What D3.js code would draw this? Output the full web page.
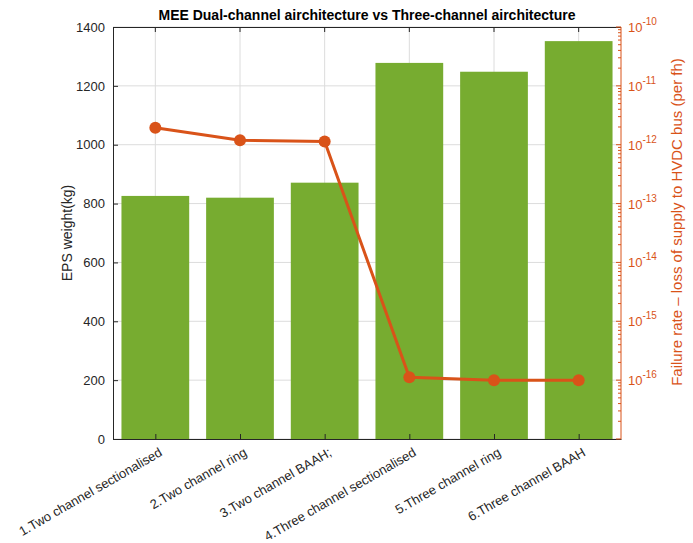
<!DOCTYPE html>
<html>
<head>
<meta charset="utf-8">
<script src="https://cdn.jsdelivr.net/npm/d3@7"></script>
<style>
  body { margin: 0; background: #fff; }
  text { font-family: "Liberation Sans", Arial, sans-serif; }
</style>
</head>
<body>
<div id="chart"></div>
<script>
// data
var categories = ["1.Two channel sectionalised", "2.Two channel ring", "3.Two channel BAAH;",
                  "4.Three channel sectionalised", "5.Three channel ring", "6.Three channel BAAH"];
var weights = [826, 820, 871, 1278, 1248, 1352];
var failureRates = [1.95e-12, 1.19e-12, 1.13e-12, 1.12e-16, 1.0e-16, 1.0e-16];
var weightTicks = [0, 200, 400, 600, 800, 1000, 1200, 1400];
var rateExponents = [-17, -16, -15, -14, -13, -12, -11, -10];

var W = 693, H = 543;
var margin = {top: 27, right: 72, bottom: 104, left: 113};
var width = W - margin.left - margin.right;
var height = H - margin.top - margin.bottom;

var green = "#77ac30", orange = "#d95319", axisCol = "#262626", gridCol = "#dcdcdc";

var svg = d3.select("#chart").append("svg")
    .attr("width", W)
    .attr("height", H);

var g = svg.append("g")
    .attr("transform", "translate(" + margin.left + "," + margin.top + ")");

var x = d3.scaleLinear().domain([0.5, 6.5]).range([0, width]);
var y = d3.scaleLinear().domain([0, 1400]).range([height, 0]);
var yR = d3.scaleLog().domain([1e-17, 1e-10]).range([height, 0]);

var idx = categories.map(function(d, i) { return i + 1; });

// grid
g.append("g").selectAll("line.gx")
    .data(idx).enter().append("line")
    .attr("x1", function(d) { return x(d); })
    .attr("x2", function(d) { return x(d); })
    .attr("y1", 0).attr("y2", height)
    .attr("stroke", gridCol).attr("stroke-width", 1);

g.append("g").selectAll("line.gy")
    .data(weightTicks).enter().append("line")
    .attr("x1", 0).attr("x2", width)
    .attr("y1", function(d) { return y(d); })
    .attr("y2", function(d) { return y(d); })
    .attr("stroke", gridCol).attr("stroke-width", 1);

// bars
var bw = (x(2) - x(1)) * 0.8;
g.append("g").selectAll("rect")
    .data(weights).enter().append("rect")
    .attr("x", function(d, i) { return x(i + 1) - bw / 2; })
    .attr("y", function(d) { return y(d); })
    .attr("width", bw)
    .attr("height", function(d) { return height - y(d); })
    .attr("fill", green);

// box top
g.append("line")
    .attr("x1", 0).attr("x2", width).attr("y1", 0.5).attr("y2", 0.5)
    .attr("stroke", axisCol).attr("stroke-width", 1);

// left axis
var yAxis = d3.axisLeft(y).tickValues(weightTicks).tickSizeInner(-5).tickSizeOuter(0)
    .tickPadding(8).tickFormat(d3.format("d"));
var ya = g.append("g").call(yAxis);
ya.select(".domain").attr("stroke", axisCol);
ya.selectAll(".tick line").attr("stroke", axisCol);
ya.selectAll("text").attr("fill", axisCol).style("font-size", "13px");

// bottom axis
var xAxis = d3.axisBottom(x).tickValues(idx).tickSizeInner(-5).tickSizeOuter(0)
    .tickFormat(function(d) { return categories[d - 1]; });
var xa = g.append("g").attr("transform", "translate(0," + height + ")").call(xAxis);
xa.select(".domain").attr("stroke", axisCol);
xa.selectAll(".tick line").attr("stroke", axisCol);
xa.selectAll("text")
    .attr("fill", axisCol)
    .style("font-size", "13px")
    .style("text-anchor", "end")
    .attr("dy", "0.35em")
    .attr("transform", "translate(5,12) rotate(-30)")
    .attr("y", 0).attr("x", 0);

// top ticks
g.append("g").selectAll("line.tt")
    .data(idx).enter().append("line")
    .attr("x1", function(d) { return x(d); })
    .attr("x2", function(d) { return x(d); })
    .attr("y1", 0).attr("y2", 5)
    .attr("stroke", axisCol);

// right log axis
var ra = g.append("g").attr("transform", "translate(" + width + ",0)");
ra.append("line").attr("x1", 0).attr("x2", 0).attr("y1", 0).attr("y2", height)
    .attr("stroke", orange);
var minor = [];
rateExponents.slice(0, -1).forEach(function(e) {
    for (var k = 2; k < 10; k++) minor.push(k * Math.pow(10, e));
});
ra.selectAll("line.mn").data(minor).enter().append("line")
    .attr("x1", 0).attr("x2", -3)
    .attr("y1", function(d) { return yR(d); })
    .attr("y2", function(d) { return yR(d); })
    .attr("stroke", orange);
var rt = ra.selectAll("g.rt").data(rateExponents).enter().append("g")
    .attr("transform", function(d) { return "translate(0," + yR(Math.pow(10, d)) + ")"; });
rt.append("line").attr("x1", 0).attr("x2", -5).attr("stroke", orange);
var rtx = rt.filter(function(d) { return d > -17; }).append("text")
    .attr("x", 7).attr("y", 5)
    .attr("fill", orange)
    .style("font-size", "13px");
rtx.append("tspan").text("10");
rtx.append("tspan").attr("dy", -7).style("font-size", "10px").text(function(d) { return d; });

// line series
var line = d3.line()
    .x(function(d, i) { return x(i + 1); })
    .y(function(d) { return yR(d); });
g.append("path")
    .datum(failureRates)
    .attr("d", line)
    .attr("fill", "none")
    .attr("stroke", orange)
    .attr("stroke-width", 3);
g.append("g").selectAll("circle")
    .data(failureRates).enter().append("circle")
    .attr("cx", function(d, i) { return x(i + 1); })
    .attr("cy", function(d) { return yR(d); })
    .attr("r", 6)
    .attr("fill", orange);

// labels
svg.append("text")
    .attr("x", margin.left + width / 2).attr("y", 20)
    .attr("text-anchor", "middle")
    .style("font-size", "14px").style("font-weight", "bold")
    .attr("fill", "#000")
    .text("MEE Dual-channel airchitecture vs Three-channel airchitecture");

svg.append("text")
    .attr("transform", "translate(72," + (margin.top + height / 2) + ") rotate(-90)")
    .attr("text-anchor", "middle")
    .style("font-size", "14px")
    .attr("fill", axisCol)
    .text("EPS weight(kg)");

svg.append("text")
    .attr("transform", "translate(682,222) rotate(-90)")
    .attr("text-anchor", "middle")
    .style("font-size", "15px")
    .attr("fill", orange)
    .text("Failure rate \u2013 loss of supply to HVDC bus (per fh)");
</script>
</body>
</html>
